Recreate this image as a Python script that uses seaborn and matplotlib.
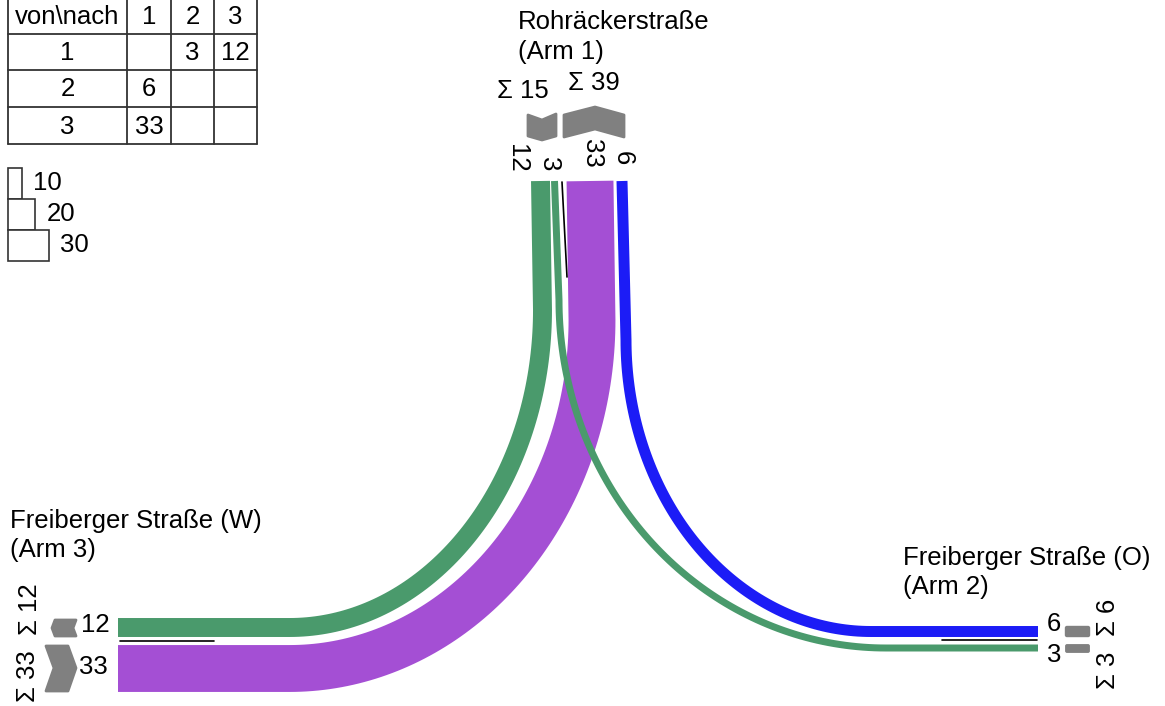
import numpy as np
import matplotlib
matplotlib.use("Agg")
import matplotlib.pyplot as plt
import seaborn as sns
from matplotlib.patches import Polygon, Rectangle, FancyBboxPatch

# Data: traffic flows between the three arms
arm_names = ["Rohräckerstraße\n(Arm 1)", "Freiberger Straße (O)\n(Arm 2)", "Freiberger Straße (W)\n(Arm 3)"]
arm_ids = [1, 2, 3]
flow_from = [1, 1, 2, 3]
flow_to = [3, 2, 1, 1]
flow_vol = [12, 3, 6, 33]
flow_colors = ["#4a9a6c", "#4a9a6c", "#1c1cf6", "#a44fd4"]
legend_vals = [10, 20, 30]

# origin-destination matrix from the flows
od = np.zeros((3, 3), dtype=int)
for f, t, v in zip(flow_from, flow_to, flow_vol):
    od[f - 1, t - 1] = v
out_sum = od.sum(axis=1)   # leaving each arm
in_sum = od.sum(axis=0)    # arriving at each arm

sns.set_theme(style="white")
plt.rcParams['font.family'] = ['Liberation Sans', 'DejaVu Sans']
plt.rcParams['text.color'] = 'black'

fig = plt.figure(figsize=(11.65, 7.06), dpi=100)
ax = fig.add_axes([0, 0, 1, 1])
PX = 0.72  # points per pixel at dpi 100
FS = 18.5


def width(n):
    return 3 + 1.33 * n


# geometry of each band: top x, x where curve starts, y where curve starts,
# x where horizontal, y of horizontal part, end x
geom = {
    (1, 3): (540.5, 542.5, 310, 289.5, 627.5, 118),
    (1, 2): (554.5, 559, 300, 886, 648, 1038),
    (2, 1): (622, 626, 340, 871, 631.5, 1038),
    (3, 1): (590, 592, 320, 289.5, 668.5, 118),
}


def band_path(xt, xv, yv, xh, yh, xend):
    t = np.linspace(0, np.pi / 2, 90)
    ex = xh + (xv - xh) * np.cos(t)
    ey = yv + (yh - yv) * np.sin(t)
    xs = np.concatenate([[xt], ex, [xend]])
    ys = np.concatenate([[181], ey, [yh]])
    return xs, ys


order = [3, 1, 0, 2]
for i in order:
    f, t, v = flow_from[i], flow_to[i], flow_vol[i]
    xs, ys = band_path(*geom[(f, t)])
    sns.lineplot(x=xs, y=ys, sort=False, estimator=None, color=flow_colors[i],
                 linewidth=width(v) * PX, solid_capstyle='butt',
                 solid_joinstyle='round', ax=ax, legend=False)

# separators between in/out bands
ax.plot([562, 567], [182, 277], color='black', lw=1.2)
ax.plot([120, 214], [641, 641], color='black', lw=1.2)
ax.plot([942, 1037], [640, 640], color='black', lw=1.2)

# gray direction arrows
gray = '#808080'
shapes = [
    [(528, 115), (542, 120), (556, 114), (556, 136), (542, 140), (528, 136)],
    [(564, 115), (595, 107), (624, 115), (624, 137), (595, 129), (564, 137)],
    [(55, 620), (76, 620), (73, 628), (76, 636), (55, 636), (52, 628)],
    [(46, 646), (68, 646), (76, 668), (68, 691), (46, 691), (54, 668)],
]
for s in shapes:
    ax.add_patch(Polygon(s, closed=True, facecolor=gray, edgecolor=gray,
                         lw=2, joinstyle='round'))
ax.add_patch(FancyBboxPatch((1067, 628), 21, 7, boxstyle="round,pad=1.5",
                            facecolor=gray, edgecolor=gray))
ax.add_patch(FancyBboxPatch((1067, 646), 21, 5, boxstyle="round,pad=1.2",
                            facecolor=gray, edgecolor=gray))

# arm titles
t1, t2, t3 = [n.split("\n") for n in arm_names]
ax.text(518, 29, t1[0], fontsize=FS, va='baseline')
ax.text(518, 59, t1[1], fontsize=FS, va='baseline')
ax.text(903, 565, t2[0], fontsize=FS, va='baseline')
ax.text(903, 594, t2[1], fontsize=FS, va='baseline')
ax.text(10, 528, t3[0], fontsize=FS, va='baseline')
ax.text(10, 557, t3[1], fontsize=FS, va='baseline')

# sums
ax.text(523, 91, f"Σ {out_sum[0]}", fontsize=FS, ha='center', va='center')
ax.text(594, 83, f"Σ {in_sum[0]}", fontsize=FS, ha='center', va='center')
ax.text(30, 609, f"Σ {in_sum[2]}", fontsize=FS, ha='center', va='center', rotation=90)
ax.text(28, 676, f"Σ {out_sum[2]}", fontsize=FS, ha='center', va='center', rotation=90)
ax.text(1108, 617, f"Σ {out_sum[1]}", fontsize=FS, ha='center', va='center', rotation=90)
ax.text(1108, 670, f"Σ {in_sum[1]}", fontsize=FS, ha='center', va='center', rotation=90)

# band labels
ax.text(517, 158, str(od[0, 2]), fontsize=FS, ha='center', va='center', rotation=-90)
ax.text(549, 164, str(od[0, 1]), fontsize=FS, ha='center', va='center', rotation=-90)
ax.text(592, 153, str(od[2, 0]), fontsize=FS, ha='center', va='center', rotation=-90)
ax.text(623, 158, str(od[1, 0]), fontsize=FS, ha='center', va='center', rotation=-90)
ax.text(81, 625, str(od[0, 2]), fontsize=FS, ha='left', va='center')
ax.text(79, 667, str(od[2, 0]), fontsize=FS, ha='left', va='center')
ax.text(1047, 624, str(od[1, 0]), fontsize=FS, ha='left', va='center')
ax.text(1047, 655, str(od[0, 1]), fontsize=FS, ha='left', va='center')

# OD table
col_x = [8, 127, 171, 214, 257]
row_y = [-2, 34, 70, 107, 144]
for x in col_x:
    ax.plot([x, x], [row_y[0], row_y[-1]], color='#333333', lw=1.3)
for y in row_y:
    ax.plot([col_x[0], col_x[-1]], [y, y], color='#333333', lw=1.3)


def cell_center(r, c):
    return (col_x[c] + col_x[c + 1]) / 2, (row_y[r] + row_y[r + 1]) / 2 + 1


ax.text(*cell_center(0, 0), "von\\nach", fontsize=FS, ha='center', va='center')
for j, a in enumerate(arm_ids):
    ax.text(*cell_center(0, j + 1), str(a), fontsize=FS, ha='center', va='center')
    ax.text(*cell_center(j + 1, 0), str(a), fontsize=FS, ha='center', va='center')
    for k in range(3):
        if od[j, k]:
            ax.text(*cell_center(j + 1, k + 1), str(od[j, k]), fontsize=FS,
                    ha='center', va='center')

# width legend
y0 = 168
for v in legend_vals:
    w = 1.37 * v
    ax.add_patch(Rectangle((8, y0), w, 31, facecolor='white', edgecolor='#333333', lw=1.2))
    ax.text(8 + w + 11, y0 + 15, str(v), fontsize=FS, ha='left', va='center')
    y0 += 31

ax.set_xlim(0, 1165)
ax.set_ylim(706, 0)
ax.axis('off')
fig.savefig("out.png", dpi=100)
